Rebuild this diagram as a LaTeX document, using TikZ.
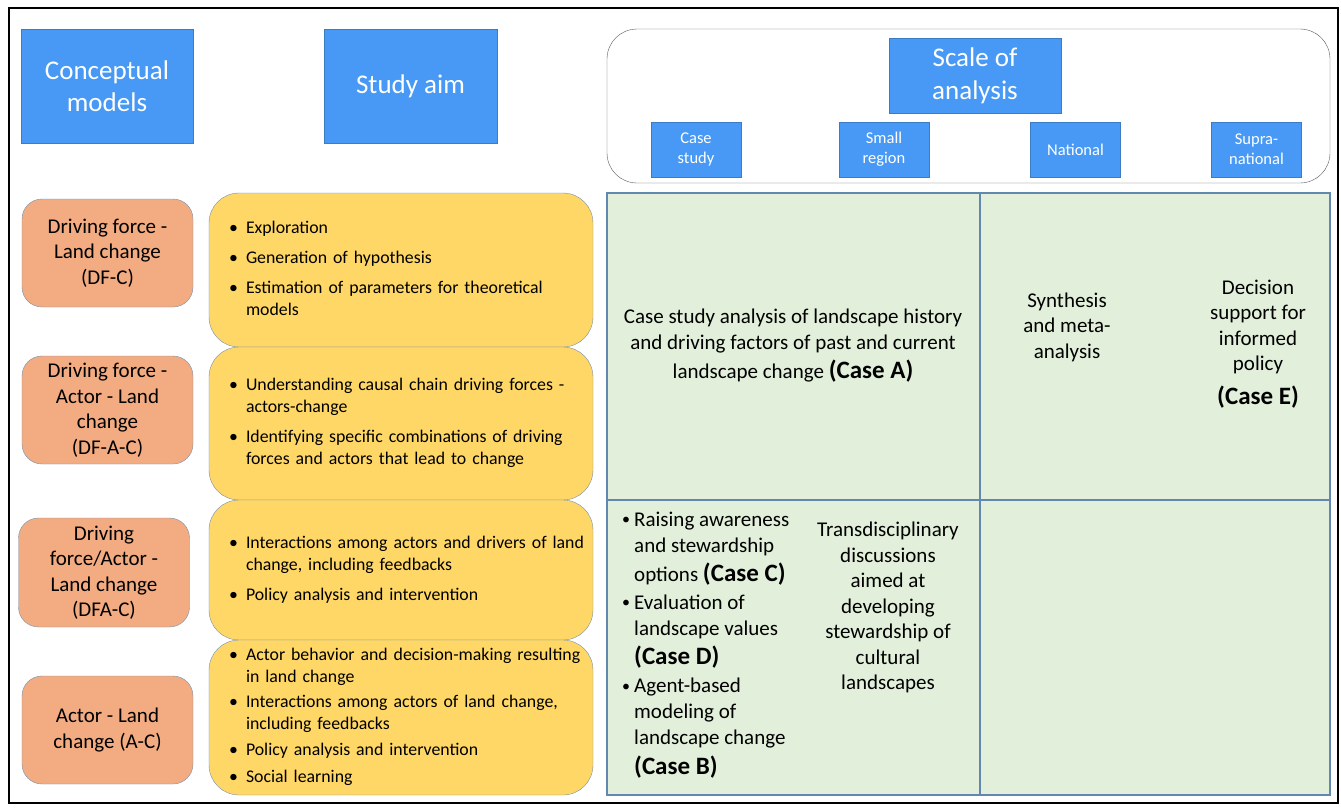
\documentclass[tikz,border=0pt]{standalone}
\usepackage{fontspec}
\setmainfont{Carlito}
\usepackage{array}

\definecolor{hdrblue}{HTML}{4799F5}
\definecolor{hdrline}{HTML}{3C7CC4}
\definecolor{modelfill}{HTML}{F3AC82}
\definecolor{aimfill}{HTML}{FED766}
\definecolor{boxline}{HTML}{7890AA}
\definecolor{cellfill}{HTML}{E2EFDA}
\definecolor{cellline}{HTML}{6388B0}

% bold case label inside the green cells
\newcommand{\casetag}[1]{{\fontsize{25}{28}\selectfont\bfseries (Case #1)}}
% bullet of the green cell list
\newcommand{\cellbullet}{\raisebox{1.5pt}{\fontsize{16}{16}\selectfont\textbullet}}

\begin{document}
\begin{tikzpicture}[x=1pt,y=-1pt,
	headbox/.style={draw=hdrline,fill=hdrblue,text=white,align=center,inner sep=0pt},
	levelbox/.style={headbox,minimum width=90pt,minimum height=55pt,font=\fontsize{16.5}{20}\selectfont},
	modelbox/.style={draw=boxline,fill=modelfill,rounded corners=20pt,align=center,inner sep=0pt,
		minimum width=171pt,font=\fontsize{21}{25.5}\selectfont},
	aimbox/.style={draw=boxline,fill=aimfill,rounded corners=30pt,minimum width=384pt,inner sep=0pt,
		text width=344pt,align=left,font=\fontsize{17.8}{22}\selectfont},
	celltext/.style={align=center,inner sep=0pt,font=\fontsize{21}{25.5}\selectfont}]
	\useasboundingbox (0,0) rectangle (1341,807);
	\draw[line width=2.5pt] (9,8) rectangle (1338,803);
	
	% column heads
	\node[headbox,minimum width=172pt,minimum height=114pt,font=\fontsize{27}{32}\selectfont] (concept) at (107,86) {Conceptual\\models};
	\node[headbox,minimum width=173pt,minimum height=114pt,font=\fontsize{27}{32}\selectfont] (aimhead) at (410.5,86) {Study aim};
	
	\node[draw=black!65,rounded corners=30pt,minimum width=723pt,minimum height=154pt] (scalebox) at (968.5,106) {};
	\node[headbox,minimum width=172pt,minimum height=75pt,font=\fontsize{27}{33}\selectfont] (scalehead) at (975,75.5) {Scale of\\analysis};
	\node[levelbox] (lvcase) at (696,149.5) {Case\\study};
	\node[levelbox] (lvsmall) at (884,149.5) {Small\\region};
	\node[levelbox] (lvnat) at (1075.5,149.5) {National};
	\node[levelbox] (lvsupra) at (1256.5,149.5) {Supra-\\national};
	
	% conceptual models
	\node[modelbox,minimum height=108pt] (dfc) at (107.5,253) {Driving force -\\Land change\\(DF-C)};
	\node[modelbox,minimum height=108pt] (dfac) at (107.5,410) {Driving force -\\Actor - Land\\change\\(DF-A-C)};
	\node[modelbox,minimum height=109pt] (dfa) at (104,572.5) {Driving\\force/Actor -\\Land change\\(DFA-C)};
	\node[modelbox,minimum height=108pt] (ac) at (107.5,730) {Actor - Land\\change (A-C)};
	
	% study aims
	\node[aimbox,minimum height=154pt] (aim1) at (401,270) {\begin{tabular}{@{}p{17pt}@{}l@{}}
		\textbullet & Exploration\\[8pt]
		\textbullet & Generation of hypothesis\\[8pt]
		\textbullet & Estimation of parameters for theoretical\\
		& models
	\end{tabular}};
	\node[aimbox,minimum height=153pt] (aim2) at (401,423.5) {\begin{tabular}{@{}p{17pt}@{}l@{}}
		\textbullet & Understanding causal chain driving forces -\\
		& actors-change\\[8pt]
		\textbullet & Identifying specific combinations of driving\\
		& forces and actors that lead to change
	\end{tabular}};
	\node[aimbox,minimum height=140pt] (aim3) at (401,570) {\begin{tabular}{@{}p{17pt}@{}l@{}}
		\textbullet & Interactions among actors and drivers of land\\
		& change, including feedbacks\\[8pt]
		\textbullet & Policy analysis and intervention
	\end{tabular}};
	\node[aimbox,minimum height=155pt] (aim4) at (401,717.5) {\begin{tabular}{@{}p{17pt}@{}l@{}}
		\textbullet & Actor behavior and decision-making resulting\\
		& in land change\\[3pt]
		\textbullet & Interactions among actors of land change,\\
		& including feedbacks\\[4pt]
		\textbullet & Policy analysis and intervention\\[5pt]
		\textbullet & Social learning
	\end{tabular}};
	
	% scale x model grid
	\draw[cellline,fill=cellfill,line width=1.3pt] (607,193) rectangle (1330,795);
	\draw[cellline,line width=1.3pt] (980,193) -- (980,795) (607,500) -- (1330,500);
	
	\node[celltext] (casea) at (793,346) {Case study analysis of landscape history\\and driving factors of past and current\\[4pt]landscape change \casetag{A}};
	\node[celltext] (synth) at (1067,327) {Synthesis\\and meta-\\analysis};
	\node[celltext] (casee) at (1258,344) {Decision\\support for\\informed\\policy\\[8pt]\casetag{E}};
	\node[celltext,anchor=base west,align=left,font=\fontsize{21}{26}\selectfont] (casecdb) at (622,526) {\begin{tabular}[t]{@{}p{12pt}@{}l@{}}
		\cellbullet & Raising awareness\\
		& and stewardship\\[3pt]
		& options \casetag{C}\\[2pt]
		\cellbullet & Evaluation of\\
		& landscape values\\[3pt]
		& \casetag{D}\\[2pt]
		\cellbullet & Agent-based\\
		& modeling of\\
		& landscape change\\[3pt]
		& \casetag{B}
	\end{tabular}};
	\node[celltext] (transd) at (888,607.5) {Transdisciplinary\\discussions\\aimed at\\developing\\stewardship of\\cultural\\landscapes};
\end{tikzpicture}
\end{document}
